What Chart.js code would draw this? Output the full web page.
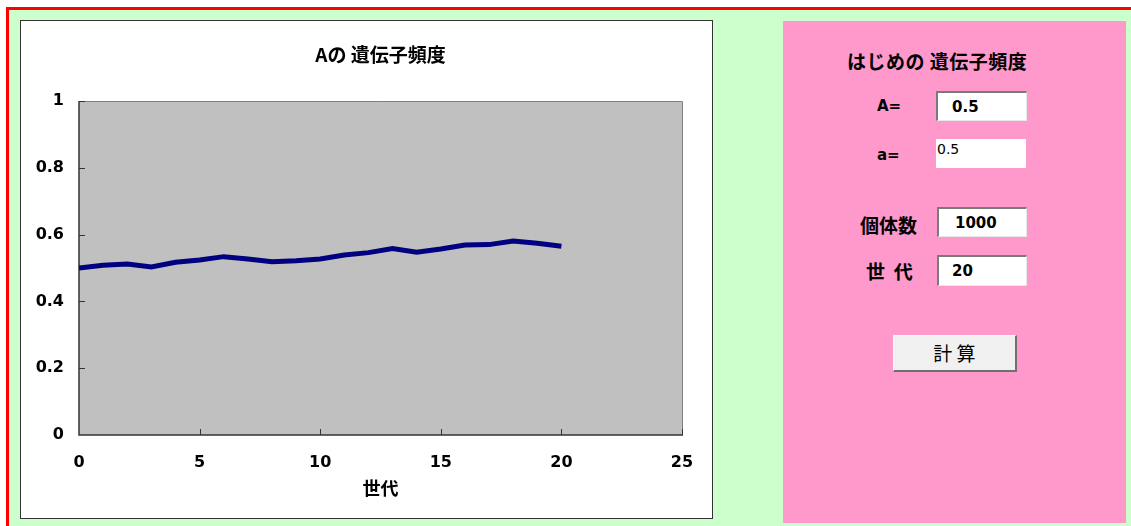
<!DOCTYPE html>
<html>
<head>
<meta charset="utf-8">
<script src="https://cdn.jsdelivr.net/npm/chart.js@4/dist/chart.umd.min.js"></script>
<style>
  body { margin: 0; background: #fff; overflow: hidden; width: 1131px; height: 526px; position: relative; }
  #frame { position: absolute; left: 6px; top: 7px; width: 1200px; height: 600px;
           border-left: 3px solid #ff0000; border-top: 3px solid #ff0000; background: #ccffcc; }
  #chartBox { position: absolute; left: 20px; top: 20px; width: 691px; height: 497px;
              border: 1px solid #333; background: #fff; }
  #chartBox canvas { display: block; }
  #panel { position: absolute; left: 783px; top: 21px; width: 343px; height: 502px; background: #ff99cc; }
  .lbl { position: absolute; font-family: "Noto Sans CJK JP", sans-serif; font-weight: bold; color: #000; white-space: nowrap; }
  .num { font-family: "DejaVu Sans", sans-serif; font-size: 15px; font-weight: bold; }
  .box { position: absolute; background: #fff; box-sizing: border-box;
         border-top: 2px solid #7a7a7a; border-left: 2px solid #7a7a7a;
         border-right: 1px solid #e8e8e8; border-bottom: 1px solid #e8e8e8; }
  .box span { position: absolute; top: 50%; transform: translateY(-50%); }
  #btn { position: absolute; left: 893px; top: 335px; width: 124px; height: 37px; box-sizing: border-box;
         background: #f0f0f0; border-top: 1px solid #fafafa; border-left: 1px solid #fafafa;
         border-right: 2px solid #707070; border-bottom: 2px solid #707070;
         font-family: "Noto Sans CJK JP", sans-serif; font-size: 19px; text-align: center; line-height: 34px; }
</style>
</head>
<body>
<div id="frame"></div>
<div id="chartBox"><canvas id="myChart" width="691" height="497"></canvas></div>
<div id="panel"></div>

<div class="lbl" style="left:847px; top:47px; font-size:19px; letter-spacing:0.5px;">はじめの 遺伝子頻度</div>
<div class="lbl num" style="left:877px; top:97px;">A=</div>
<div class="box" style="left:936px; top:91px; width:91px; height:30px;"><span class="num" style="left:14px;">0.5</span></div>
<div class="lbl num" style="left:877px; top:146px;">a=</div>
<div class="box" style="left:936px; top:139px; width:90px; height:29px; border:none;"><span style="left:1px; top:10px; font-family:'DejaVu Sans',sans-serif; font-size:14px;">0.5</span></div>
<div class="lbl" style="left:860px; top:211px; font-size:19px;">個体数</div>
<div class="box" style="left:937px; top:207px; width:90px; height:30px;"><span class="num" style="left:16px;">1000</span></div>
<div class="lbl" style="left:866px; top:257px; font-size:19px;">世&nbsp;&nbsp;代</div>
<div class="box" style="left:937px; top:255px; width:90px; height:31px;"><span class="num" style="left:13px;">20</span></div>
<div id="btn">計 算</div>

<script>
const generations = [0, 1, 2, 3, 4, 5, 6, 7, 8, 9, 10, 11, 12, 13, 14, 15, 16, 17, 18, 19, 20];
const freqA = [0.500, 0.508, 0.512, 0.503, 0.517, 0.524, 0.534, 0.527, 0.519, 0.522, 0.527,
               0.539, 0.546, 0.558, 0.547, 0.557, 0.569, 0.570, 0.581, 0.574, 0.565];
const xTicks = [0, 5, 10, 15, 20, 25];
const yTicks = [0, 0.2, 0.4, 0.6, 0.8, 1];

const tickFont = { family: "'DejaVu Sans', sans-serif", size: 16, weight: 'bold' };
const cjkFont = "'Noto Sans CJK JP', sans-serif";

// gray plot area, frame and the small inward tick marks
const plotFrame = {
    id: 'plotFrame',
    beforeDatasetsDraw(chart) {
        const { ctx, chartArea: a, scales } = chart;
        ctx.save();
        ctx.fillStyle = '#c0c0c0';
        ctx.fillRect(a.left, a.top, a.right - a.left, a.bottom - a.top);
        ctx.strokeStyle = '#808080';
        ctx.lineWidth = 1;
        ctx.beginPath();
        ctx.moveTo(a.left, a.top + 0.5); ctx.lineTo(a.right + 0.5, a.top + 0.5); ctx.lineTo(a.right + 0.5, a.bottom);
        ctx.stroke();
        ctx.strokeStyle = '#333';
        ctx.lineWidth = 1.5;
        ctx.beginPath();
        ctx.moveTo(a.left, a.top); ctx.lineTo(a.left, a.bottom); ctx.lineTo(a.right + 1, a.bottom);
        ctx.stroke();
        ctx.lineWidth = 1;
        yTicks.forEach(v => {
            if (v === 0) return;
            const y = Math.round(scales.y.getPixelForValue(v)) + 0.5;
            ctx.beginPath(); ctx.moveTo(a.left, y); ctx.lineTo(a.left + 6, y); ctx.stroke();
        });
        xTicks.forEach(v => {
            if (v === 0) return;
            const x = Math.round(scales.x.getPixelForValue(v)) + 0.5;
            ctx.beginPath(); ctx.moveTo(x, a.bottom); ctx.lineTo(x, a.bottom - 6); ctx.stroke();
        });
        ctx.restore();
    }
};

const ctx = document.getElementById('myChart');
new Chart(ctx, {
    type: 'line',
    data: {
        datasets: [{
            label: 'A',
            data: generations.map((g, i) => ({ x: g, y: freqA[i] })),
            borderColor: '#000080',
            borderWidth: 5,
            pointRadius: 0,
            tension: 0,
            fill: false
        }]
    },
    options: {
        responsive: false,
        animation: false,
        devicePixelRatio: 1,
        layout: { padding: { left: 0, right: 30, top: 0, bottom: 0 } },
        plugins: {
            legend: { display: false },
            tooltip: { enabled: false },
            title: {
                display: true,
                text: 'Aの 遺伝子頻度',
                fullSize: false,
                color: '#000',
                font: { family: cjkFont, size: 19, weight: 'bold' },
                padding: { top: 22, bottom: 35.2 }
            }
        },
        scales: {
            x: {
                type: 'linear',
                min: 0, max: 25,
                afterBuildTicks: s => { s.ticks = xTicks.map(v => ({ value: v })); },
                afterFit: s => { s.height = 83; },
                grid: { display: false, drawTicks: false },
                border: { display: false },
                ticks: { color: '#000', font: tickFont, padding: 18, callback: v => String(v) },
                title: {
                    display: true, text: '世代', color: '#000',
                    font: { family: cjkFont, size: 18, weight: 'bold' },
                    padding: { top: 0, bottom: 19 }
                }
            },
            y: {
                min: 0, max: 1,
                afterBuildTicks: s => { s.ticks = yTicks.map(v => ({ value: v })); },
                afterFit: s => { s.width = 58; },
                grid: { display: false, drawTicks: false },
                border: { display: false },
                ticks: { color: '#000', font: tickFont, padding: 15, callback: v => String(v) }
            }
        }
    },
    plugins: [plotFrame]
});
</script>
</body>
</html>
